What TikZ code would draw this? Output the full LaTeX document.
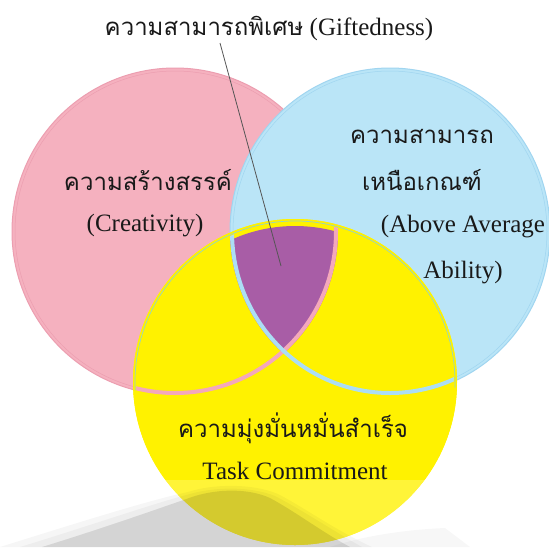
\documentclass[tikz,border=0pt]{standalone}
\usepackage{fontspec}
\setmainfont{Liberation Serif}
\newfontfamily\thai[Script=Thai]{Loma}
\definecolor{pinkfill}{RGB}{245,177,191}
\definecolor{pinkedge}{RGB}{236,158,176}
\definecolor{pinkline}{RGB}{244,168,187}
\definecolor{bluefill}{RGB}{186,229,247}
\definecolor{blueedge}{RGB}{160,213,240}
\definecolor{blueline}{RGB}{172,222,245}
\definecolor{yellowfill}{RGB}{255,242,0}
\definecolor{yellowedge}{RGB}{150,212,196}
\definecolor{purplefill}{RGB}{168,93,166}
\definecolor{leadgray}{RGB}{85,85,85}
\definecolor{txt}{RGB}{25,25,25}
\begin{document}
\begin{tikzpicture}[x=1pt,y=-1pt,
  lbl/.style={anchor=base,inner sep=0pt,text=txt,font=\fontsize{25}{30}\selectfont},
  thlbl/.style={anchor=base,inner sep=0pt,text=txt,font=\fontsize{24}{30}\selectfont\thai},
  leader/.style={draw=leadgray,line width=0.8pt}]
\useasboundingbox (0,0) rectangle (549,547);
\fill[white] (0,0) rectangle (549,547);

% the three sets
\def\pinkC{(175,231.5) ellipse [x radius=163pt, y radius=163.5pt]}
\def\blueC{(390,231.5) ellipse [x radius=160pt, y radius=163.5pt]}
\def\yellowC{(295,382) ellipse [x radius=162pt, y radius=163pt]}
\def\yellowIn{(295,382) ellipse [x radius=155pt, y radius=156pt]}

\fill[pinkfill] \pinkC;
\draw[pinkedge,line width=1pt] \pinkC;
\draw[pinkedge,line width=0.5pt] (175,231.5) ellipse [x radius=160pt, y radius=160.5pt];

\fill[bluefill] \blueC;
\draw[blueedge,line width=1pt] \blueC;
\draw[blueedge,line width=0.5pt] (390,231.5) ellipse [x radius=157pt, y radius=160.5pt];

\fill[yellowfill] \yellowC;

% common part of all three
\begin{scope}
  \clip \pinkC;
  \clip \blueC;
  \fill[purplefill] \yellowIn;
\end{scope}

% borders of the pink and blue sets running through the yellow one
\begin{scope}
  \clip \yellowC;
  \draw[pinkline,line width=4pt] (175,231.5) ellipse [x radius=161pt, y radius=161.5pt];
  \draw[blueline,line width=4pt] (390,231.5) ellipse [x radius=158pt, y radius=161.5pt];
  \draw[yellowfill,line width=6pt] \yellowC;
\end{scope}
\draw[yellowedge,line width=0.7pt] (295,382) ++(-2:160pt)
  arc[start angle=-2, end angle=183, x radius=160pt, y radius=161pt];

% reflection under the yellow set
\fill[white,opacity=0.22] (0,480) rectangle (549,547);
% soft outer rim of the shadow
\fill[black,opacity=0.035] (0,547) .. controls (80,522) and (150,500) .. (188,492)
  .. controls (212,484) and (252,483) .. (278,494) .. controls (305,508) and (335,530) .. (372,547) -- cycle;
\fill[black,opacity=0.035] (20,547) .. controls (95,524) and (155,503) .. (190,494)
  .. controls (214,487) and (250,486) .. (275,496) .. controls (302,510) and (332,530) .. (362,547) -- cycle;
% shadow body
\fill[black,opacity=0.10] (42,547) .. controls (110,526) and (160,508) .. (195,496)
  .. controls (218,489) and (248,488) .. (270,498) .. controls (296,512) and (322,532) .. (350,547) -- cycle;
% faint patch on the right
\fill[black,opacity=0.03] (330,547) .. controls (360,537) and (400,530) .. (445,528) -- (470,547) -- cycle;

% labels
\node[lbl] (title) at (269,35) {{\thai\fontsize{24}{30}\selectfont ความสามารถพิเศษ} (Giftedness)};
\node[thlbl] (crth) at (148,190) {ความสร้างสรรค์};
\node[lbl] (cren) at (145,231) {(Creativity)};
\node[thlbl] (abth1) at (422,143) {ความสามารถ};
\node[thlbl] (abth2) at (422,190) {เหนือเกณฑ์};
\node[lbl] (aben1) at (463,232) {(Above Average};
\node[lbl] (aben2) at (463,278) {Ability)};
\node[thlbl] (tkth) at (293,437) {ความมุ่งมั่นหมั่นสำเร็จ};
\node[lbl] (tken) at (295,479) {Task Commitment};

% leader from the title to the common part
\coordinate (leadtop) at (220,43);
\coordinate (gift) at (281,266);
\draw[leader] (leadtop) -- (gift);
\end{tikzpicture}
\end{document}
